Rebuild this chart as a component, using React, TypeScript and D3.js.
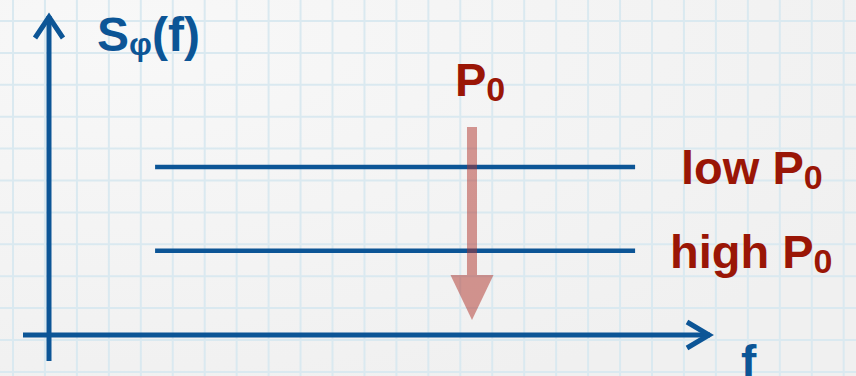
import React from "react";
import * as d3 from "d3";

// ---- data (schematic values on a 0..100 scale) ----
const levelLabels = ["low P", "high P"];
const levelValues = [52.5, 26.3];
const levelStart = [16, 16];
const levelEnd = [88.4, 88.4];
const arrowX = [63.8];
const arrowFrom = [65];
const arrowTo = [4.7];
const axisLabels = ["S", "φ", "(f)", "f"];
const arrowTitle = ["P", "0"];

const W = 856;
const H = 376;
const BLUE = "#0c5596";
const RED = "#9a1606";
const FONT = "'Liberation Sans', Arial, Helvetica, sans-serif";

export default function App() {
  const x = d3.scaleLinear().domain([0, 100]).range([49, 712]);
  const y = d3.scaleLinear().domain([0, 100]).range([335, 15]);

  const vGrid = d3.range(13, W, 31.95);
  const hGrid = d3.range(21, H, 31.9);

  const ax = x(arrowX[0]);
  const ay0 = y(arrowFrom[0]);
  const ay1 = y(arrowTo[0]);
  const headH = 45;
  const headW = 43;
  const shaftW = 10;

  return (
    <svg
      width={W}
      height={H}
      viewBox={`0 0 ${W} ${H}`}
      style={{ position: "absolute", left: 0, top: 0, display: "block" }}
    >
      <defs>
        <radialGradient id="bg" cx="0.15" cy="0.1" r="1">
          <stop offset="0" stopColor="#f8f8f8" />
          <stop offset="1" stopColor="#f0f0f0" />
        </radialGradient>
      </defs>
      <rect x={0} y={0} width={W} height={H} fill="url(#bg)" />
      <g stroke="#dae9f0" strokeWidth={2}>
        {vGrid.map((gx, i) => (
          <line key={"v" + i} x1={gx} x2={gx} y1={0} y2={H} />
        ))}
        {hGrid.map((gy, i) => (
          <line key={"h" + i} x1={0} x2={W} y1={gy} y2={gy} />
        ))}
      </g>

      {/* axes */}
      <g stroke={BLUE} strokeWidth={5} fill="none">
        <line x1={x(0)} x2={x(0)} y1={y(0) + 26} y2={y(100) + 1} />
        <polyline points={`${x(0) - 14},${y(100) + 23} ${x(0)},${y(100) + 2} ${x(0) + 14},${y(100) + 23}`} />
        <line x1={x(0) - 26} x2={x(100) - 2} y1={y(0)} y2={y(0)} />
        <polyline points={`${x(100) - 25},${y(0) - 13} ${x(100) - 3},${y(0)} ${x(100) - 25},${y(0) + 13}`} />
      </g>

      {/* level lines */}
      {levelValues.map((v, i) => (
        <line
          key={"l" + i}
          x1={x(levelStart[i])}
          x2={x(levelEnd[i])}
          y1={y(v)}
          y2={y(v)}
          stroke={BLUE}
          strokeWidth={4.5}
        />
      ))}

      {/* arrow */}
      <g fill="#b0342b" opacity={0.5}>
        <rect x={ax - shaftW / 2} y={ay0} width={shaftW} height={ay1 - headH - ay0 + 1} />
        <polygon points={`${ax - headW / 2},${ay1 - headH} ${ax + headW / 2},${ay1 - headH} ${ax},${ay1}`} />
      </g>

      {/* labels */}
      <g fontFamily={FONT} fontWeight="bold">
        <text x={97} y={51} fill={BLUE} fontSize={48}>
          {axisLabels[0]}
          <tspan fontSize={32} dy={4}>{axisLabels[1]}</tspan>
          <tspan fontSize={48} dy={-4}>{axisLabels[2]}</tspan>
        </text>
        <text x={741} y={378} fill={BLUE} fontSize={46}>
          {axisLabels[3]}
        </text>
        <text x={ax - 17} y={96} fill={RED} fontSize={47}>
          {arrowTitle[0]}
          <tspan fontSize={34} dy={5}>{arrowTitle[1]}</tspan>
        </text>
        {levelLabels.map((lab, i) => (
          <text key={"t" + i} x={i === 0 ? 681 : 670} y={y(levelValues[i]) + 17} fill={RED} fontSize={47}>
            {lab}
            <tspan fontSize={34} dy={5}>0</tspan>
          </text>
        ))}
      </g>
    </svg>
  );
}
